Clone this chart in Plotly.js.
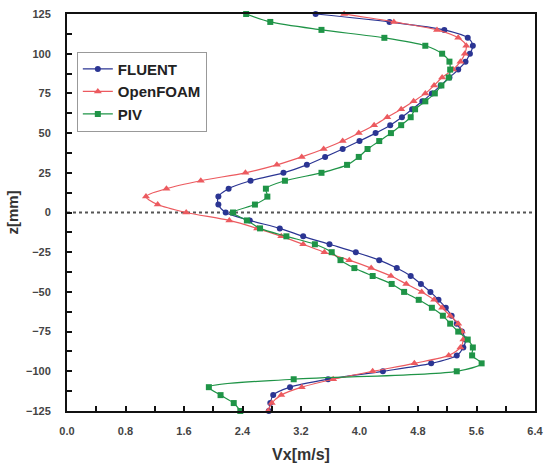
<!DOCTYPE html>
<html>
<head>
<meta charset="utf-8">
<script src="https://cdn.plot.ly/plotly-3.0.1.min.js"></script>
<style>html,body{margin:0;padding:0;background:#fff;}#chart{width:544px;height:463px;}</style>
</head>
<body>
<div id="chart"></div>
<script>
var zLevels = [125,120,115,110,105,100,95,90,85,80,75,70,65,60,55,50,45,40,35,30,25,20,15,10,5,0,
  -5,-10,-15,-20,-25,-30,-35,-40,-45,-50,-55,-60,-65,-70,-75,-80,-85,-90,-95,-100,-105,-110,-115,-120,-125];

var fluentVx = [3.40,4.41,5.16,5.48,5.55,5.51,5.45,5.35,5.23,5.11,4.99,4.86,4.72,4.58,4.42,4.22,4.00,3.77,3.53,3.28,2.96,2.51,2.21,2.07,2.07,2.17,
  2.50,2.91,3.23,3.59,3.95,4.27,4.51,4.70,4.84,4.97,5.08,5.18,5.26,5.33,5.40,5.45,5.42,5.33,4.98,4.32,3.57,3.05,2.82,2.78,2.76];

var openfoamVx = [3.79,4.47,5.06,5.35,5.46,5.44,5.38,5.28,5.13,5.02,4.90,4.74,4.57,4.38,4.20,3.99,3.77,3.51,3.21,2.87,2.44,1.83,1.36,1.08,1.24,1.63,
  2.22,2.60,2.93,3.23,3.52,3.86,4.16,4.43,4.64,4.85,5.02,5.13,5.24,5.35,5.40,5.42,5.38,5.22,4.75,4.18,3.64,3.21,2.93,2.80,2.75];

var pivVx = [2.45,2.78,3.48,4.34,4.90,5.13,5.23,5.24,5.22,5.12,5.03,4.90,4.76,4.70,4.57,4.43,4.27,4.11,3.99,3.83,3.48,2.98,2.72,2.74,2.57,2.27,
  2.46,2.64,3.00,3.39,3.62,3.74,3.93,4.18,4.44,4.61,4.81,4.99,5.14,5.24,5.35,5.48,5.55,5.54,5.67,5.33,3.10,1.94,2.10,2.28,2.37];

var seriesNames = ['FLUENT','OpenFOAM','PIV'];
var xTickVals = [0.0,0.8,1.6,2.4,3.2,4.0,4.8,5.6,6.4];
var xTickText = ['0.0','0.8','1.6','2.4','3.2','4.0','4.8','5.6','6.4'];
var yTickVals = [125,100,75,50,25,0,-25,-50,-75,-100,-125];

function mk(x, name, color, symbol, size) {
  return {
    x: x, y: zLevels, name: name, type: 'scatter', mode: 'lines+markers',
    line: {color: color, width: 1.2, shape: 'spline', smoothing: 0.8},
    marker: {color: color, symbol: symbol, size: size},
    cliponaxis: false
  };
}

var data = [
  mk(fluentVx, seriesNames[0], '#2b3593', 'circle', 6),
  mk(openfoamVx, seriesNames[1], '#ec5a5f', 'triangle-up', 7),
  mk(pivVx, seriesNames[2], '#1f9447', 'square', 6)
];

var tickFont = {family: 'Liberation Sans, Arial, sans-serif', size: 11, color: '#444', weight: 'bold'};

var layout = {
  width: 544, height: 463,
  margin: {l: 67, r: 9, t: 14, b: 52},
  paper_bgcolor: '#fff', plot_bgcolor: '#fff',
  showlegend: true,
  legend: {
    x: 0.021, y: 0.905, xanchor: 'left', yanchor: 'top',
    bgcolor: '#fff', bordercolor: '#999', borderwidth: 1,
    font: {family: 'Liberation Sans, Arial, sans-serif', size: 15, color: '#222', weight: 'bold'},
    tracegroupgap: 0, itemwidth: 30
  },
  xaxis: {
    range: [0, 6.4], tickvals: xTickVals, ticktext: xTickText,
    ticks: 'inside', ticklen: 5, tickwidth: 2, tickcolor: '#111',
    minor: {dtick: 0.4, ticks: 'inside', ticklen: 5, tickwidth: 2, tickcolor: '#111'},
    showline: true, linecolor: '#111', linewidth: 2, mirror: true,
    showgrid: false, zeroline: false, automargin: false,
    ticklabeloverflow: 'allow', ticklabelstandoff: 9,
    tickfont: tickFont,
    title: {text: 'Vx[m/s]', standoff: 14, font: {family: 'Liberation Sans, Arial, sans-serif', size: 16, color: '#333', weight: 'bold'}}
  },
  yaxis: {
    range: [-125, 125], tickvals: yTickVals,
    ticks: 'inside', ticklen: 5, tickwidth: 2, tickcolor: '#111',
    minor: {dtick: 12.5, tick0: 0, ticks: 'inside', ticklen: 5, tickwidth: 2, tickcolor: '#111'},
    showline: true, linecolor: '#111', linewidth: 2, mirror: true,
    showgrid: false, zeroline: false, automargin: false,
    ticklabeloverflow: 'allow', ticklabelstandoff: 12,
    tickfont: tickFont,
    title: {text: 'z[mm]', standoff: 4, font: {family: 'Liberation Sans, Arial, sans-serif', size: 15, color: '#333', weight: 'bold'}}
  },
  shapes: [{
    type: 'line', xref: 'paper', x0: 0, x1: 1, yref: 'y', y0: 0, y1: 0,
    line: {color: '#555', width: 2, dash: 'dot'}, layer: 'below'
  }]
};

Plotly.newPlot('chart', data, layout, {displayModeBar: false, staticPlot: true});
</script>
</body>
</html>
